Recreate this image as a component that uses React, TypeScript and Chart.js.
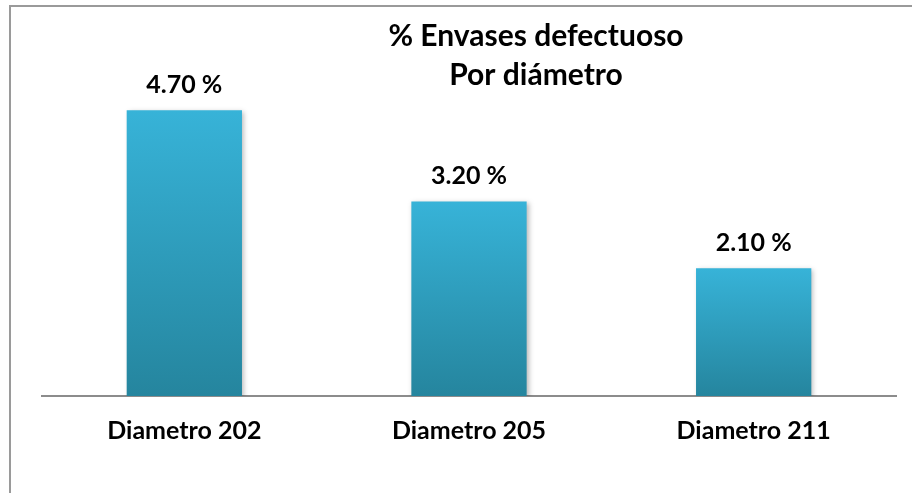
import React, { useEffect, useRef } from "react";
import { Chart, registerables } from "chart.js";
Chart.register(...registerables);

const categories = ["Diametro 202", "Diametro 205", "Diametro 211"];
const values = [4.7, 3.2, 2.1];
const titleLines = ["% Envases defectuoso", "Por diámetro"];
const FONT = "Lato, 'Noto Sans', sans-serif";

export default function App() {
  const ref = useRef<HTMLCanvasElement>(null);
  useEffect(() => {
    const canvas = ref.current!;
    const titlePlugin = {
      id: "customTitle",
      afterDraw(chart: any) {
        const ctx = chart.ctx;
        ctx.save();
        ctx.fillStyle = "#000";
        ctx.font = `bold 30px ${FONT}`;
        ctx.textAlign = "center";
        ctx.textBaseline = "alphabetic";
        ctx.fillText(titleLines[0], 536, 46);
        ctx.fillText(titleLines[1], 536, 85);
        ctx.restore();
      },
    };
    const labelPlugin = {
      id: "valueLabels",
      afterDatasetsDraw(chart: any) {
        const ctx = chart.ctx;
        const meta = chart.getDatasetMeta(0);
        ctx.save();
        ctx.fillStyle = "#000";
        ctx.font = `bold 25px ${FONT}`;
        ctx.textAlign = "center";
        ctx.textBaseline = "alphabetic";
        meta.data.forEach((el: any, i: number) => {
          ctx.fillText(values[i].toFixed(2) + " %", el.x, el.y - 17);
        });
        ctx.restore();
      },
    };
    const shadowPlugin = {
      id: "barShadow",
      beforeDatasetDraw(chart: any) {
        const ctx = chart.ctx;
        ctx.save();
        ctx.shadowColor = "rgba(0,0,0,0.28)";
        ctx.shadowBlur = 5;
        ctx.shadowOffsetX = 2;
        ctx.shadowOffsetY = 2;
      },
      afterDatasetDraw(chart: any) {
        chart.ctx.restore();
      },
    };
    const chart = new Chart(canvas, {
      type: "bar",
      data: {
        labels: categories,
        datasets: [
          {
            data: values,
            barPercentage: 0.81,
            categoryPercentage: 0.5,
            borderWidth: 0,
            backgroundColor: (c: any) => {
              const ch = c.chart;
              if (!ch.chartArea || c.parsed == null) return "#32a8c9";
              const y = ch.scales.y;
              const top = y.getPixelForValue(values[c.dataIndex]);
              const bottom = y.getPixelForValue(0);
              const g = ch.ctx.createLinearGradient(0, top, 0, bottom);
              g.addColorStop(0, "#37b3d8");
              g.addColorStop(1, "#25859e");
              return g;
            },
          },
        ],
      },
      options: {
        responsive: false,
        animation: false,
        layout: { padding: { left: 42, right: 16, top: 92, bottom: 27 } },
        plugins: { legend: { display: false }, tooltip: { enabled: false }, title: { display: false } },
        scales: {
          y: { display: false, min: 0, max: 5 },
          x: {
            grid: { display: false, drawTicks: false },
            border: { display: true, color: "#8c8c8c", width: 2 },
            ticks: { color: "#000", padding: 20, font: { family: FONT, size: 25, weight: "bold" } },
          },
        },
      },
      plugins: [shadowPlugin, labelPlugin, titlePlugin],
    });
    return () => chart.destroy();
  }, []);
  return (
    <div style={{ position: "fixed", left: 0, top: 0, width: 912, height: 493, overflow: "hidden", background: "#fff" }}>
      <canvas ref={ref} width={912} height={493} style={{ position: "absolute", left: 0, top: 0, width: 912, height: 493 }} />
      <div
        style={{
          position: "absolute",
          left: 9,
          top: 5,
          width: 1000,
          height: 1000,
          borderLeft: "2px solid #9a9a9a",
          borderTop: "2px solid #9a9a9a",
          pointerEvents: "none",
        }}
      />
    </div>
  );
}
